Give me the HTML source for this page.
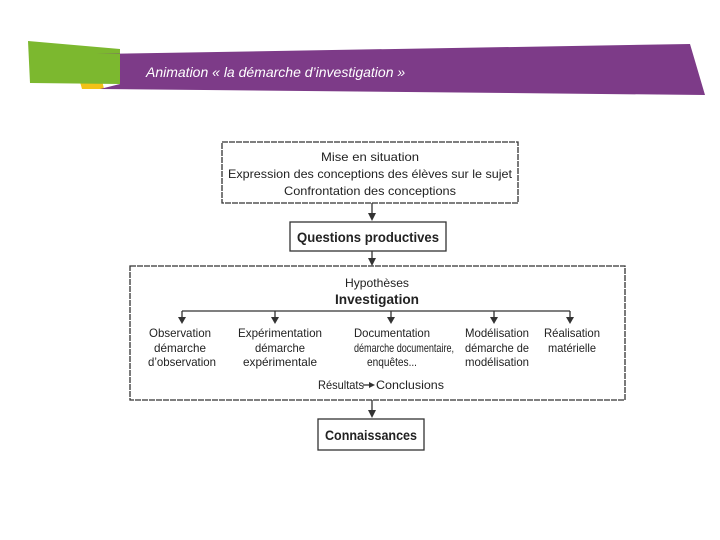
<!DOCTYPE html>
<html><head><meta charset="utf-8"><style>
html,body{margin:0;padding:0;background:#fff;width:720px;height:540px;overflow:hidden}
svg{display:block}
</style></head><body>
<svg width="720" height="540" viewBox="0 0 720 540" xmlns="http://www.w3.org/2000/svg">
<polygon points="80,82 102,80 104,89 82,89" fill="#f2c218"/>
<polygon points="28,41 120,49 120,84 30,83" fill="#7cb82f"/>
<polygon points="96,54 690,44 705,95 100,89 120,84 120,54" fill="#7d3b88"/>
<text x="146" y="77" font-family="Liberation Sans, sans-serif" font-style="italic" font-size="14" fill="#fff">Animation « la démarche d’investigation »</text>

<g fill="none" stroke="#333" stroke-width="1.3">
<rect x="222" y="142" width="296" height="61" stroke-dasharray="6 1"/>
<rect x="290" y="222" width="156" height="29"/>
<rect x="130" y="266" width="495" height="134" stroke-dasharray="6 1"/>
<rect x="318" y="419" width="106" height="31"/>
<line x1="372" y1="203" x2="372" y2="214"/>
<line x1="372" y1="251" x2="372" y2="259"/>
<line x1="372" y1="400" x2="372" y2="411"/>
<line x1="182" y1="311" x2="570" y2="311"/>
<line x1="182" y1="311" x2="182" y2="318"/>
<line x1="275" y1="311" x2="275" y2="318"/>
<line x1="391" y1="311" x2="391" y2="318"/>
<line x1="494" y1="311" x2="494" y2="318"/>
<line x1="570" y1="311" x2="570" y2="318"/>
<line x1="363" y1="385" x2="370" y2="385"/>
</g>
<g fill="#333">
<polygon points="368,213 376,213 372,221"/>
<polygon points="368,258 376,258 372,266"/>
<polygon points="368,410 376,410 372,418"/>
<polygon points="178,317 186,317 182,324"/>
<polygon points="271,317 279,317 275,324"/>
<polygon points="387,317 395,317 391,324"/>
<polygon points="490,317 498,317 494,324"/>
<polygon points="566,317 574,317 570,324"/>
<polygon points="369,382 375,385 369,388"/>
</g>
<g font-family="Liberation Sans, sans-serif" font-size="12" fill="#222" text-anchor="middle">
<text x="370" y="161" textLength="98" lengthAdjust="spacingAndGlyphs">Mise en situation</text>
<text x="370" y="178" textLength="284" lengthAdjust="spacingAndGlyphs">Expression des conceptions des élèves sur le sujet</text>
<text x="370" y="195" textLength="172" lengthAdjust="spacingAndGlyphs">Confrontation des conceptions</text>
<text x="368" y="242" font-weight="bold" font-size="14" textLength="142" lengthAdjust="spacingAndGlyphs">Questions productives</text>
<text x="377" y="287" textLength="64" lengthAdjust="spacingAndGlyphs">Hypothèses</text>
<text x="377" y="304" font-weight="bold" font-size="14" textLength="84" lengthAdjust="spacingAndGlyphs">Investigation</text>
<text x="180" y="337" textLength="62" lengthAdjust="spacingAndGlyphs">Observation</text>
<text x="180" y="352" textLength="52" lengthAdjust="spacingAndGlyphs">démarche</text>
<text x="182" y="366" textLength="68" lengthAdjust="spacingAndGlyphs">d’observation</text>
<text x="280" y="337" textLength="84" lengthAdjust="spacingAndGlyphs">Expérimentation</text>
<text x="280" y="352" textLength="50" lengthAdjust="spacingAndGlyphs">démarche</text>
<text x="280" y="366" textLength="74" lengthAdjust="spacingAndGlyphs">expérimentale</text>
<text x="392" y="337" textLength="76" lengthAdjust="spacingAndGlyphs">Documentation</text>
<text x="404" y="352" textLength="100" lengthAdjust="spacingAndGlyphs">démarche documentaire,</text>
<text x="392" y="366" textLength="50" lengthAdjust="spacingAndGlyphs">enquêtes...</text>
<text x="497" y="337" textLength="64" lengthAdjust="spacingAndGlyphs">Modélisation</text>
<text x="497" y="352" textLength="64" lengthAdjust="spacingAndGlyphs">démarche de</text>
<text x="497" y="366" textLength="64" lengthAdjust="spacingAndGlyphs">modélisation</text>
<text x="572" y="337" textLength="56" lengthAdjust="spacingAndGlyphs">Réalisation</text>
<text x="572" y="352" textLength="48" lengthAdjust="spacingAndGlyphs">matérielle</text>
<text x="341" y="389" textLength="46" lengthAdjust="spacingAndGlyphs">Résultats</text>
<text x="410" y="389" textLength="68" lengthAdjust="spacingAndGlyphs">Conclusions</text>
<text x="371" y="440" font-weight="bold" font-size="14" textLength="92" lengthAdjust="spacingAndGlyphs">Connaissances</text>
</g>
</svg>
</body></html>
